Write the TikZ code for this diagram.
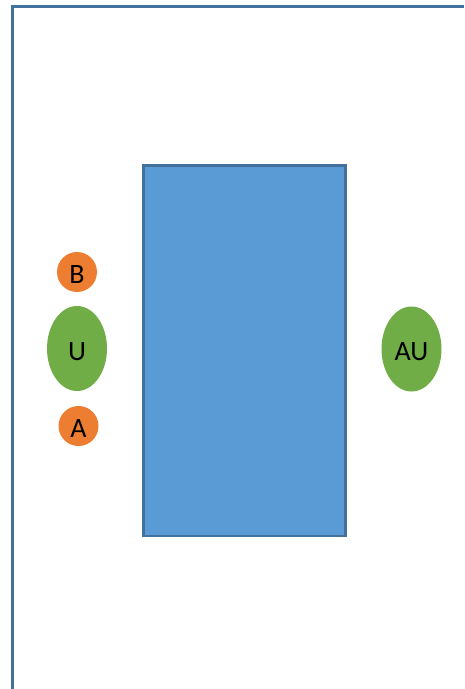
\documentclass[tikz,border=0pt]{standalone}
\usepackage{fontspec}
\setmainfont{Carlito}
\usetikzlibrary{shapes.geometric}
\definecolor{edgeblue}{HTML}{41719C}
\definecolor{fillblue}{HTML}{5B9BD5}
\definecolor{leafgreen}{HTML}{70AD47}
\definecolor{tangerine}{HTML}{ED7D31}
\begin{document}
\begin{tikzpicture}[x=1pt,y=-1pt,
  frameline/.style={draw=edgeblue,line width=2.2pt},
  bigbox/.style={draw=edgeblue,line width=2.2pt,fill=fillblue},
  labeltext/.style={font=\fontsize{28}{30}\selectfont,yshift=-3pt},
  greenblob/.style={ellipse,fill=leafgreen,inner sep=0pt,minimum width=60pt,minimum height=85pt},
  orangedot/.style={circle,fill=tangerine,inner sep=0pt,minimum size=40pt}]
\useasboundingbox (0,0) rectangle (464,689);
\fill[white] (0,0) rectangle (464,689);
\coordinate (fbl) at (12.5,689);
\coordinate (ftl) at (12.5,6.5);
\coordinate (ftr) at (464,6.5);
\draw[frameline] (fbl) -- (ftl) -- (ftr);
\draw[bigbox] (143.5,165.5) rectangle (345.5,536);
\node[orangedot] (b) at (77,272) {};
\node[greenblob] (u) at (77,348.5) {};
\node[orangedot] (a) at (78.5,426) {};
\node[greenblob] (au) at (411.5,349) {};
\node[labeltext] (bt) at (b) {B};
\node[labeltext] (ut) at (u) {U};
\node[labeltext] (at) at (a) {A};
\node[labeltext] (aut) at (au) {AU};
\end{tikzpicture}
\end{document}
